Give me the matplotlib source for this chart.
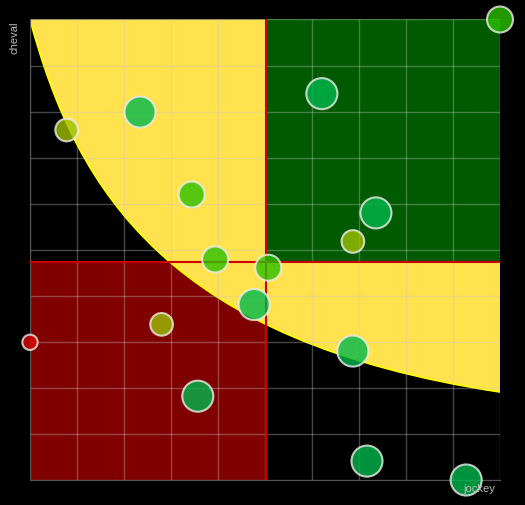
import matplotlib.pyplot as plt
import numpy as np
from matplotlib.path import Path
from matplotlib.patches import PathPatch

plt.rcParams['font.family'] = ['Liberation Sans', 'DejaVu Sans']

# points (normalised jockey / cheval scores)
jockey = [10, 6.21, 2.34, 0.78, 3.44, 7.36, 6.87, 3.94, 5.07, 4.77, 2.80, 0, 6.87, 3.57, 7.17, 9.28]
cheval = [10, 8.39, 7.99, 7.60, 6.20, 5.80, 5.18, 4.79, 4.61, 3.81, 3.38, 2.99, 2.80, 1.82, 0.41, 0]
groupe = ['lime', 'vert', 'vert', 'olive', 'lime', 'vert', 'olive', 'lime',
          'lime', 'vert', 'olive', 'rouge', 'vert', 'vert', 'vert', 'vert']

# frontier curve: bezier control points
courbe_x = [0, 1.0, 3.0, 10]
courbe_y = [10, 6.2, 3.0, 1.91]

couleurs = {'vert': '#00b84c', 'lime': '#2cc000', 'olive': '#9ec000', 'rouge': '#e00000'}
tailles = {'vert': 500, 'lime': 350, 'olive': 266, 'rouge': 121}

fig = plt.figure(figsize=(5.25, 5.05), dpi=100, facecolor='black')
ax = fig.add_axes([30 / 525, 25 / 505, 470 / 525, 460.5 / 505])
ax.set_facecolor('black')
ax.set_xlim(0, 10)
ax.set_ylim(0, 10)

mx = np.mean(jockey)
my = np.mean(cheval)

ax.add_patch(plt.Rectangle((0, 0), mx, my, color='#800000', lw=0, zorder=1))

pts = list(zip(courbe_x, courbe_y))
zone = Path(pts + [(10, 10), (0, 10)],
            [Path.MOVETO, Path.CURVE4, Path.CURVE4, Path.CURVE4, Path.LINETO, Path.CLOSEPOLY])
ax.add_patch(PathPatch(zone, facecolor='#ffe24d', lw=0, zorder=2))
ax.add_patch(plt.Rectangle((mx, my), 10 - mx, 10 - my, color='#005a00', lw=0, zorder=3))
bord = Path(pts, [Path.MOVETO, Path.CURVE4, Path.CURVE4, Path.CURVE4])
ax.add_patch(PathPatch(bord, facecolor='none', edgecolor='#ffff00', lw=1.2, zorder=3.5))

ticks = np.arange(0, 11)
ax.vlines(ticks, 0, 10, color='#c8c8c8', alpha=0.35, lw=1, zorder=4)
ax.hlines(ticks, 0, 10, color='#c8c8c8', alpha=0.35, lw=1, zorder=4)

ax.axvline(mx, color='#cc0000', lw=1.5, zorder=5)
ax.axhline(my, color='#cc0000', lw=1.5, zorder=5)

ax.scatter(jockey, cheval, s=[tailles[g] for g in groupe], c=[couleurs[g] for g in groupe],
           alpha=0.8, edgecolors='#eeeeee', linewidths=1.5, zorder=6, clip_on=False)

ax.set_xticks([])
ax.set_yticks([])
for s in ['top', 'right']:
    ax.spines[s].set_visible(False)
for s in ['left', 'bottom']:
    ax.spines[s].set_color('#555555')
    ax.spines[s].set_zorder(4.5)

fig.text(15 / 525, 1 - 22 / 505, 'cheval', rotation=90, ha='center', va='top',
         color='#bbbbbb', fontsize=8)
fig.text(495 / 525, 1 - 489 / 505, 'jockey', ha='right', va='center',
         color='#bbbbbb', fontsize=8, zorder=10)

fig.savefig('out.png', dpi=100, facecolor='black')
